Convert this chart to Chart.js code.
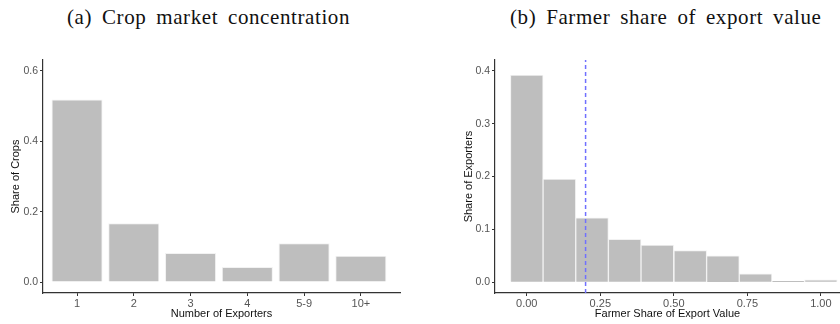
<!DOCTYPE html>
<html>
<head>
<meta charset="utf-8">
<script src="https://cdn.jsdelivr.net/npm/chart.js@4"></script>
<style>
  body { margin: 0; background: #fff; }
  #wrap { position: relative; width: 840px; height: 324px; }
  .ttl { position: absolute; top: 5px; font-family: "Liberation Serif", serif; font-size: 21px; letter-spacing: 0.6px; word-spacing: 4px; color: #111; white-space: nowrap; }
  .box { position: absolute; top: 0; width: 420px; height: 324px; }
</style>
</head>
<body>
<div id="wrap">
  <div class="ttl" id="ta" style="left:67px">(a) Crop market concentration</div>
  <div class="ttl" id="tb" style="left:510px">(b) Farmer share of export value</div>
  <div class="box" style="left:0"><canvas id="c1" width="420" height="324"></canvas></div>
  <div class="box" style="left:420px"><canvas id="c2" width="420" height="324"></canvas></div>
</div>
<script>
// (a) share of crops by number of exporters
const exporterCats = ['1', '2', '3', '4', '5-9', '10+']
const cropShare = [0.519, 0.167, 0.083, 0.043, 0.110, 0.075]
const cropTicks = [0.0, 0.2, 0.4, 0.6]

// (b) histogram of farmer share of export value
const binCenters = [0, 0.111, 0.222, 0.333, 0.444, 0.556, 0.667, 0.778, 0.889, 1.0]
const exporterShare = [0.392, 0.195, 0.122, 0.081, 0.070, 0.060, 0.050, 0.016, 0.002, 0.0045]
const shareTicks = [0.0, 0.1, 0.2, 0.3, 0.4]
const valueTicks = [0, 0.25, 0.5, 0.75, 1.0]
const medianLine = 0.2

Chart.defaults.font.family = '"Liberation Sans", Arial, sans-serif'
Chart.defaults.animation = false

let axisGrid = { display: true, drawOnChartArea: false, drawTicks: true, tickLength: 3, color: '#333', offset: false }
let axisBorder = { display: true, color: '#333', width: 1.2 }
let tickFont = { size: 11 }
let yTickFont = { size: 10.5 }
let titleFont = { size: 11 }
let setTicks = vals => scale => { scale.ticks = vals.map(v => ({ value: v })) }

new Chart(document.getElementById('c1'), {
    type: 'bar',
    data: {
        datasets: [{
            data: cropShare.map((v, i) => ({ x: i + 1, y: v })),
            backgroundColor: '#bebebe',
            borderColor: '#f2f2f2',
            borderWidth: 1,
            barPercentage: 0.9,
            categoryPercentage: 1
        }]
    },
    options: {
        responsive: false,
        layout: { padding: { left: 9, right: 20, top: 60, bottom: 3 } },
        plugins: { legend: { display: false }, tooltip: { enabled: false } },
        scales: {
            x: {
                type: 'linear', min: 0.4, max: 6.69, offset: false,
                afterBuildTicks: setTicks([1, 2, 3, 4, 5, 6]),
                afterFit: s => { s.height = 28 },
                grid: axisGrid, border: axisBorder,
                ticks: { color: '#555', font: tickFont, padding: 1, maxRotation: 0, callback: v => exporterCats[v - 1] },
                title: { display: true, text: 'Number of Exporters', color: '#111', font: titleFont, padding: { top: 0, bottom: 0 } }
            },
            y: {
                min: -0.031, max: 0.631,
                afterBuildTicks: setTicks(cropTicks),
                afterFit: s => { s.width = 34 },
                grid: axisGrid, border: axisBorder,
                ticks: { color: '#555', font: yTickFont, padding: 2, callback: v => v.toFixed(1) },
                title: { display: true, text: 'Share of Crops', color: '#111', font: titleFont, padding: { top: 0, bottom: 0 } }
            }
        }
    }
})

new Chart(document.getElementById('c2'), {
    type: 'bar',
    data: {
        datasets: [{
            type: 'line',
            data: [{ x: medianLine, y: -0.0205 }, { x: medianLine, y: 0.4205 }],
            borderColor: '#7070ff',
            borderWidth: 1.5,
            borderDash: [4, 3],
            pointRadius: 0,
            order: 0
        }, {
            data: binCenters.map((c, i) => ({ x: c, y: exporterShare[i] })),
            backgroundColor: '#bebebe',
            borderColor: '#f2f2f2',
            borderWidth: 1,
            barPercentage: 1,
            categoryPercentage: 1,
            order: 1
        }]
    },
    options: {
        responsive: false,
        layout: { padding: { left: 42, right: 0, top: 60, bottom: 3 } },
        plugins: { legend: { display: false }, tooltip: { enabled: false } },
        scales: {
            x: {
                type: 'linear', min: -0.108, max: 1.065, offset: false,
                afterBuildTicks: setTicks(valueTicks),
                afterFit: s => { s.height = 28 },
                grid: axisGrid, border: axisBorder,
                ticks: { color: '#555', font: tickFont, padding: 1, maxRotation: 0, callback: v => v.toFixed(2) },
                title: { display: true, text: 'Farmer Share of Export Value', color: '#111', font: titleFont, padding: { top: 0, bottom: 0 } }
            },
            y: {
                min: -0.0205, max: 0.4205,
                afterBuildTicks: setTicks(shareTicks),
                afterFit: s => { s.width = 33 },
                grid: axisGrid, border: axisBorder,
                ticks: { color: '#555', font: yTickFont, padding: 2, callback: v => v.toFixed(1) },
                title: { display: true, text: 'Share of Exporters', color: '#111', font: titleFont, padding: { top: 0, bottom: 0 } }
            }
        }
    }
})
</script>
</body>
</html>
